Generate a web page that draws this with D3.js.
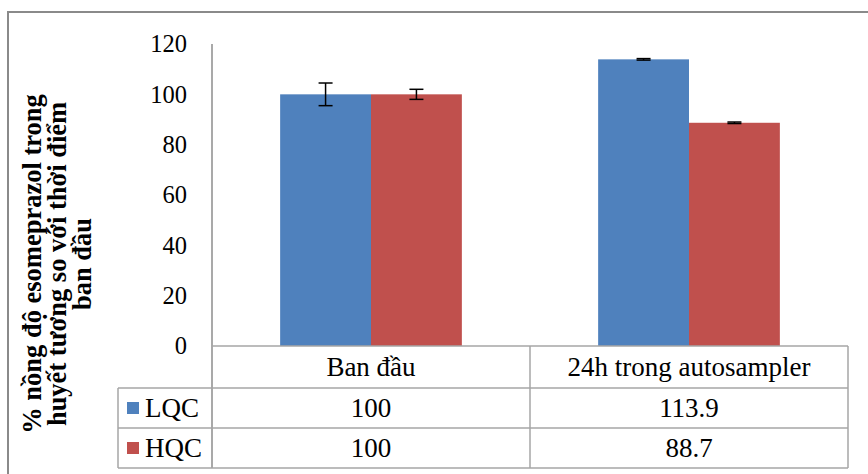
<!DOCTYPE html>
<html>
<head>
<meta charset="utf-8">
<script src="https://cdn.jsdelivr.net/npm/d3@7"></script>
<style>
  html, body { margin: 0; padding: 0; background: #fff; }
  svg { display: block; }
  text { fill: #000; }
</style>
</head>
<body>
<svg id="chart" width="868" height="474"></svg>
<script>
// Data
const categories = ["Ban đầu", "24h trong autosampler"];
const seriesNames = ["LQC", "HQC"];
const lqcValues = [100, 113.9];
const hqcValues = [100, 88.7];
const lqcErrors = [4.5, 0.3];
const hqcErrors = [2.0, 0.3];
const yTicks = [0, 20, 40, 60, 80, 100, 120];
const yTitleLines = ["% nồng độ esomeprazol trong", "huyết tương so với thời điểm", "ban đầu"];

const colors = { LQC: "#4F81BD", HQC: "#C0504D" };
const series = [
  { name: "LQC", values: lqcValues, errors: lqcErrors },
  { name: "HQC", values: hqcValues, errors: hqcErrors }
];

const fonts = ["Liberation Serif", "Times New Roman", "Tinos", "DejaVu Serif", "Noto Serif", "serif"];
const fontFamily = fonts.map(f => f.includes(" ") ? `"${f}"` : f).join(", ");
const tableFontSize = 27;

const svg = d3.select("#chart").attr("font-family", fontFamily);

// Layout
const plot = { left: 212, right: 848, top: 44, bottom: 346 };
const tableLeft = 118;
const catRowBottom = 388;
const rowBottoms = [428, 468];
const gridColor = "#a6a6a6";

// Outer chart frame
svg.append("rect")
  .attr("x", 8).attr("y", 12)
  .attr("width", 880).attr("height", 490)
  .attr("fill", "none")
  .attr("stroke", "#8a8a8a")
  .attr("stroke-width", 2);

// Scales
const x0 = d3.scaleBand().domain(categories).range([plot.left, plot.right]);
const x1 = d3.scaleBand().domain(seriesNames).range([0, x0.bandwidth()])
  .paddingInner(0).paddingOuter(0.75);
const y = d3.scaleLinear().domain([0, 120]).range([plot.bottom, plot.top]);

// Y tick labels (axis without tick marks)
const yAxis = d3.axisLeft(y).tickValues(yTicks).tickSize(0).tickPadding(25);
const yg = svg.append("g")
  .attr("transform", `translate(${plot.left},0)`)
  .call(yAxis)
  .attr("font-family", fontFamily)
  .attr("font-size", 24.5);
yg.select(".domain").remove();
yg.selectAll("text").attr("fill", "#000");

// Bars
const groups = svg.append("g").selectAll("g")
  .data(series)
  .join("g")
  .attr("fill", d => colors[d.name]);

groups.selectAll("rect")
  .data(s => categories.map((c, i) => ({ cat: c, name: s.name, v: s.values[i], e: s.errors[i] })))
  .join("rect")
  .attr("x", d => x0(d.cat) + x1(d.name))
  .attr("width", x1.bandwidth())
  .attr("y", d => y(d.v))
  .attr("height", d => y(0) - y(d.v));

// Error bars
const errData = series.flatMap(s => categories.map((c, i) => ({ cat: c, name: s.name, v: s.values[i], e: s.errors[i] })));
const eg = svg.append("g").attr("stroke", "#000").attr("stroke-width", 1.5).attr("fill", "none");
const capW = 7;
errData.forEach(d => {
  const cx = x0(d.cat) + x1(d.name) + x1.bandwidth() / 2;
  const yHi = y(d.v + d.e), yLo = y(d.v - d.e);
  eg.append("line").attr("x1", cx).attr("x2", cx).attr("y1", yHi).attr("y2", yLo);
  eg.append("line").attr("x1", cx - capW).attr("x2", cx + capW).attr("y1", yHi).attr("y2", yHi);
  eg.append("line").attr("x1", cx - capW).attr("x2", cx + capW).attr("y1", yLo).attr("y2", yLo);
});

// Data table grid
const tg = svg.append("g").attr("stroke", gridColor).attr("stroke-width", 1.5).attr("fill", "none");
// vertical value axis line running through the table
tg.append("line").attr("x1", plot.left).attr("x2", plot.left).attr("y1", plot.top).attr("y2", rowBottoms[1]).attr("stroke", "#8c8c8c");
// baseline / top of category row
tg.append("line").attr("x1", plot.left).attr("x2", plot.right).attr("y1", plot.bottom).attr("y2", plot.bottom);
// row separators
[catRowBottom, ...rowBottoms].forEach(yy => {
  tg.append("line").attr("x1", tableLeft).attr("x2", plot.right).attr("y1", yy).attr("y2", yy);
});
// legend column left edge
tg.append("line").attr("x1", tableLeft).attr("x2", tableLeft).attr("y1", catRowBottom).attr("y2", rowBottoms[1]);
// category separators and right edge
categories.forEach(c => {
  const xr = x0(c) + x0.bandwidth();
  tg.append("line").attr("x1", xr).attr("x2", xr).attr("y1", plot.bottom).attr("y2", rowBottoms[1]);
});

// Category labels
svg.append("g").selectAll("text")
  .data(categories)
  .join("text")
  .attr("x", c => x0(c) + x0.bandwidth() / 2)
  .attr("y", (plot.bottom + catRowBottom) / 2)
  .attr("dy", "0.35em")
  .attr("text-anchor", "middle")
  .attr("font-size", tableFontSize)
  .text(c => c);

// Value rows with legend keys
const rowTops = [catRowBottom, rowBottoms[0]];
series.forEach((s, r) => {
  const cy = (rowTops[r] + rowBottoms[r]) / 2;
  svg.append("rect")
    .attr("x", 127).attr("y", cy - 6)
    .attr("width", 12).attr("height", 12)
    .attr("fill", colors[s.name]);
  svg.append("text")
    .attr("x", 145).attr("y", cy).attr("dy", "0.35em")
    .attr("font-size", tableFontSize)
    .text(s.name);
  svg.append("g").selectAll("text")
    .data(categories.map((c, i) => ({ c, v: s.values[i] })))
    .join("text")
    .attr("x", d => x0(d.c) + x0.bandwidth() / 2)
    .attr("y", cy).attr("dy", "0.35em")
    .attr("text-anchor", "middle")
    .attr("font-size", tableFontSize)
    .text(d => d3.format("~f")(d.v));
});

// Y axis title
const title = svg.append("text")
  .attr("transform", "translate(0,264) rotate(-90)")
  .attr("text-anchor", "middle")
  .attr("font-size", 26.5)
  .attr("font-weight", "bold");
yTitleLines.forEach((line, i) => {
  title.append("tspan")
    .attr("x", 0)
    .attr("y", 41 + i * 25)
    .text(line);
});
</script>
</body>
</html>
